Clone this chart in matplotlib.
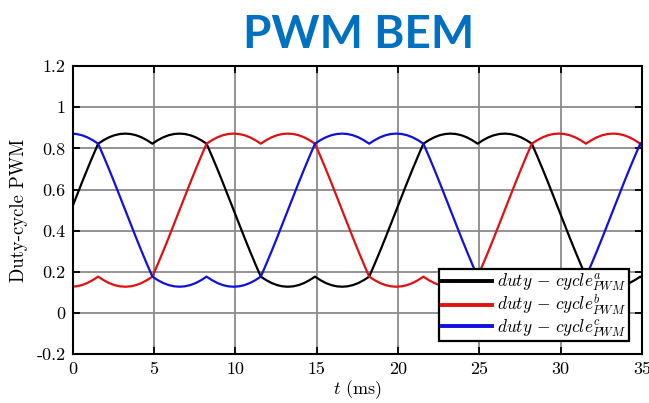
import matplotlib
matplotlib.use("Agg")
import matplotlib.pyplot as plt
import numpy as np

# sample times (ms), one sample every 1/3 ms
t_ms = np.arange(107) / 3 - 0.1

duty_a = [0.500, 0.567, 0.634, 0.699, 0.762, 0.823, 0.840, 0.854, 0.864, 0.870,
          0.872, 0.870, 0.864, 0.854, 0.840, 0.823, 0.840, 0.854, 0.864, 0.870,
          0.872, 0.870, 0.864, 0.854, 0.840, 0.823, 0.762, 0.699, 0.634, 0.567,
          0.500, 0.433, 0.366, 0.301, 0.238, 0.177, 0.160, 0.146, 0.136, 0.130,
          0.128, 0.130, 0.136, 0.146, 0.160, 0.177, 0.160, 0.146, 0.136, 0.130,
          0.128, 0.130, 0.136, 0.146, 0.160, 0.177, 0.238, 0.301, 0.366, 0.433,
          0.500, 0.567, 0.634, 0.699, 0.762, 0.823, 0.840, 0.854, 0.864, 0.870,
          0.872, 0.870, 0.864, 0.854, 0.840, 0.823, 0.840, 0.854, 0.864, 0.870,
          0.872, 0.870, 0.864, 0.854, 0.840, 0.823, 0.762, 0.699, 0.634, 0.567,
          0.500, 0.433, 0.366, 0.301, 0.238, 0.177, 0.160, 0.146, 0.136, 0.130,
          0.128, 0.130, 0.136, 0.146, 0.160, 0.177, 0.160]

duty_b = [0.128, 0.130, 0.136, 0.146, 0.160, 0.177, 0.160, 0.146, 0.136, 0.130,
          0.128, 0.130, 0.136, 0.146, 0.160, 0.177, 0.238, 0.301, 0.366, 0.433,
          0.500, 0.567, 0.634, 0.699, 0.762, 0.823, 0.840, 0.854, 0.864, 0.870,
          0.872, 0.870, 0.864, 0.854, 0.840, 0.823, 0.840, 0.854, 0.864, 0.870,
          0.872, 0.870, 0.864, 0.854, 0.840, 0.823, 0.762, 0.699, 0.634, 0.567,
          0.500, 0.433, 0.366, 0.301, 0.238, 0.177, 0.160, 0.146, 0.136, 0.130,
          0.128, 0.130, 0.136, 0.146, 0.160, 0.177, 0.160, 0.146, 0.136, 0.130,
          0.128, 0.130, 0.136, 0.146, 0.160, 0.177, 0.238, 0.301, 0.366, 0.433,
          0.500, 0.567, 0.634, 0.699, 0.762, 0.823, 0.840, 0.854, 0.864, 0.870,
          0.872, 0.870, 0.864, 0.854, 0.840, 0.823, 0.840, 0.854, 0.864, 0.870,
          0.872, 0.870, 0.864, 0.854, 0.840, 0.823, 0.762]

duty_c = [0.872, 0.870, 0.864, 0.854, 0.840, 0.823, 0.762, 0.699, 0.634, 0.567,
          0.500, 0.433, 0.366, 0.301, 0.238, 0.177, 0.160, 0.146, 0.136, 0.130,
          0.128, 0.130, 0.136, 0.146, 0.160, 0.177, 0.160, 0.146, 0.136, 0.130,
          0.128, 0.130, 0.136, 0.146, 0.160, 0.177, 0.238, 0.301, 0.366, 0.433,
          0.500, 0.567, 0.634, 0.699, 0.762, 0.823, 0.840, 0.854, 0.864, 0.870,
          0.872, 0.870, 0.864, 0.854, 0.840, 0.823, 0.840, 0.854, 0.864, 0.870,
          0.872, 0.870, 0.864, 0.854, 0.840, 0.823, 0.762, 0.699, 0.634, 0.567,
          0.500, 0.433, 0.366, 0.301, 0.238, 0.177, 0.160, 0.146, 0.136, 0.130,
          0.128, 0.130, 0.136, 0.146, 0.160, 0.177, 0.160, 0.146, 0.136, 0.130,
          0.128, 0.130, 0.136, 0.146, 0.160, 0.177, 0.238, 0.301, 0.366, 0.433,
          0.500, 0.567, 0.634, 0.699, 0.762, 0.823, 0.840]

x_ticks = [0, 5, 10, 15, 20, 25, 30, 35]
y_ticks = [-0.2, 0, 0.2, 0.4, 0.6, 0.8, 1, 1.2]
y_tick_labels = ['-0.2', '0', '0.2', '0.4', '0.6', '0.8', '1', '1.2']
labels = [r'$duty\,-\,cycle^{a}_{PWM}$', r'$duty\,-\,cycle^{b}_{PWM}$', r'$duty\,-\,cycle^{c}_{PWM}$']
colors = ['black', '#e01010', '#1010e0']

plt.rcParams['mathtext.fontset'] = 'cm'
plt.rcParams['font.family'] = 'serif'
plt.rcParams['font.serif'] = ['cmr10', 'DejaVu Serif']

fig = plt.figure(figsize=(6.49, 4.03), dpi=100)
ax = fig.add_axes([0.112, 0.121, 0.877, 0.715])

for y, c, lab in zip([duty_a, duty_b, duty_c], colors, labels):
    ax.plot(t_ms, y, color=c, lw=1.6, label=lab)

ax.set_xlim(0, 35)
ax.set_ylim(-0.2, 1.2)
ax.set_xticks(x_ticks)
ax.set_xticklabels([str(v) for v in x_ticks])
ax.set_yticks(y_ticks)
ax.set_yticklabels(y_tick_labels)
ax.grid(True, color='#8a8a8a', lw=1.3)
ax.set_axisbelow(True)
ax.tick_params(direction='in', length=5, width=1.3, top=True, right=True,
               labelsize=13, pad=5)
for s in ax.spines.values():
    s.set_linewidth(1.5)

ax.set_xlabel(r'$t$ (ms)', fontsize=13, labelpad=1)
ax.set_ylabel('Duty-cycle PWM', fontsize=13.5, labelpad=6)

leg = ax.legend(loc='lower right', fontsize=12.5, handlelength=2.9, fancybox=False,
                framealpha=1, edgecolor='black', borderpad=0.15, labelspacing=0.0,
                handletextpad=0.3, borderaxespad=0.75)
leg.get_frame().set_linewidth(1.6)
for h in leg.get_lines():
    h.set_linewidth(2.8)

fig.text(0.553, 0.912, 'PWM BEM', ha='center', va='center', fontsize=33,
         fontweight='bold', color='#0070c0', family='Lato')

fig.savefig('out.png', dpi=100)
